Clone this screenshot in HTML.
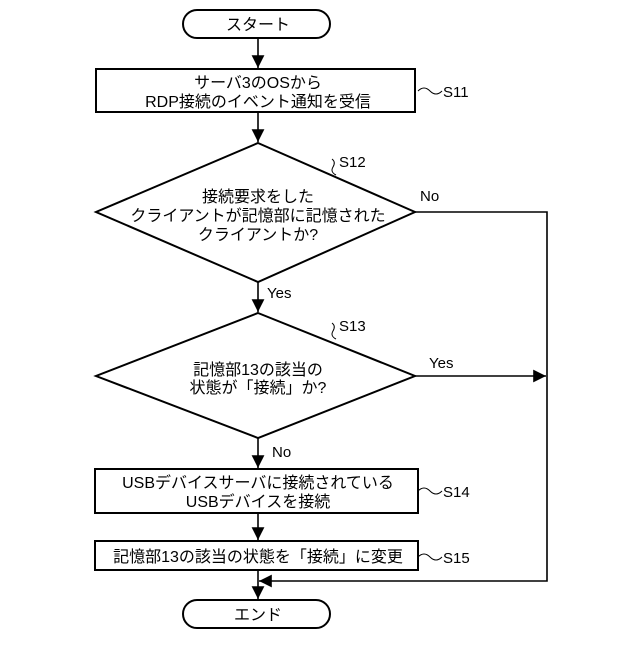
<!DOCTYPE html>
<html><head><meta charset="utf-8"><style>
body{margin:0;background:#fff}
svg text{font-family:"Liberation Sans","Noto Sans CJK JP",sans-serif;fill:#000}
</style></head><body>
<svg width="640" height="640" viewBox="0 0 640 640" xmlns="http://www.w3.org/2000/svg">
<defs><marker id="a" viewBox="0 0 10 10" refX="10" refY="5" markerWidth="8" markerHeight="8" orient="auto-start-reverse"><path d="M0,0 L10,5 L0,10 z" fill="#000"/></marker></defs>
<g fill="none" stroke="#000" stroke-width="2">
<rect x="183" y="10" width="147" height="28" rx="14"/>
<rect x="96" y="69" width="319" height="43"/>
<polygon points="258,143 415,212 258,282 96,212"/>
<polygon points="258,313 415,376 258,438 96,376"/>
<rect x="95" y="469" width="323" height="44"/>
<rect x="95" y="541" width="323" height="29"/>
<rect x="183" y="600" width="147" height="28" rx="14"/>
<g stroke-width="1.6">
<line x1="258" y1="38" x2="258" y2="68" marker-end="url(#a)"/>
<line x1="258" y1="112" x2="258" y2="142" marker-end="url(#a)"/>
<line x1="258" y1="282" x2="258" y2="312" marker-end="url(#a)"/>
<line x1="258" y1="438" x2="258" y2="468" marker-end="url(#a)"/>
<line x1="258" y1="513" x2="258" y2="540" marker-end="url(#a)"/>
<line x1="258" y1="570" x2="258" y2="599" marker-end="url(#a)"/>
<polyline points="415,212 547,212 547,581 259,581" marker-end="url(#a)"/>
<line x1="415" y1="376" x2="546" y2="376" marker-end="url(#a)"/>
</g>
<g stroke-width="1">
<path d="M418,91 q6,-6 12,0 t12,0"/>
<path d="M418,491 q6,-6 12,0 t12,0"/>
<path d="M418,557 q6,-6 12,0 t12,0"/>
<path d="M336,175 q-6,-3 -3,-8 t-1,-8"/>
<path d="M336,339 q-6,-3 -3,-8 t-1,-8"/>
</g>
</g>
<g font-size="16" text-anchor="middle">
<text x="258" y="30">スタート</text>
<text x="258" y="88">サーバ3のOSから</text>
<text x="258" y="107">RDP接続のイベント通知を受信</text>
<text x="258" y="202">接続要求をした</text>
<text x="258" y="221">クライアントが記憶部に記憶された</text>
<text x="258" y="240">クライアントか?</text>
<text x="258" y="375">記憶部13の該当の</text>
<text x="258" y="393">状態が「接続」か?</text>
<text x="258" y="488">USBデバイスサーバに接続されている</text>
<text x="258" y="507">USBデバイスを接続</text>
<text x="258" y="562">記憶部13の該当の状態を「接続」に変更</text>
<text x="258" y="620">エンド</text>
</g>
<g font-size="15">
<text x="443" y="97">S11</text>
<text x="339" y="167">S12</text>
<text x="420" y="201">No</text>
<text x="267" y="298">Yes</text>
<text x="339" y="331">S13</text>
<text x="429" y="368">Yes</text>
<text x="272" y="457">No</text>
<text x="443" y="497">S14</text>
<text x="443" y="563">S15</text>
</g>
</svg>
</body></html>
